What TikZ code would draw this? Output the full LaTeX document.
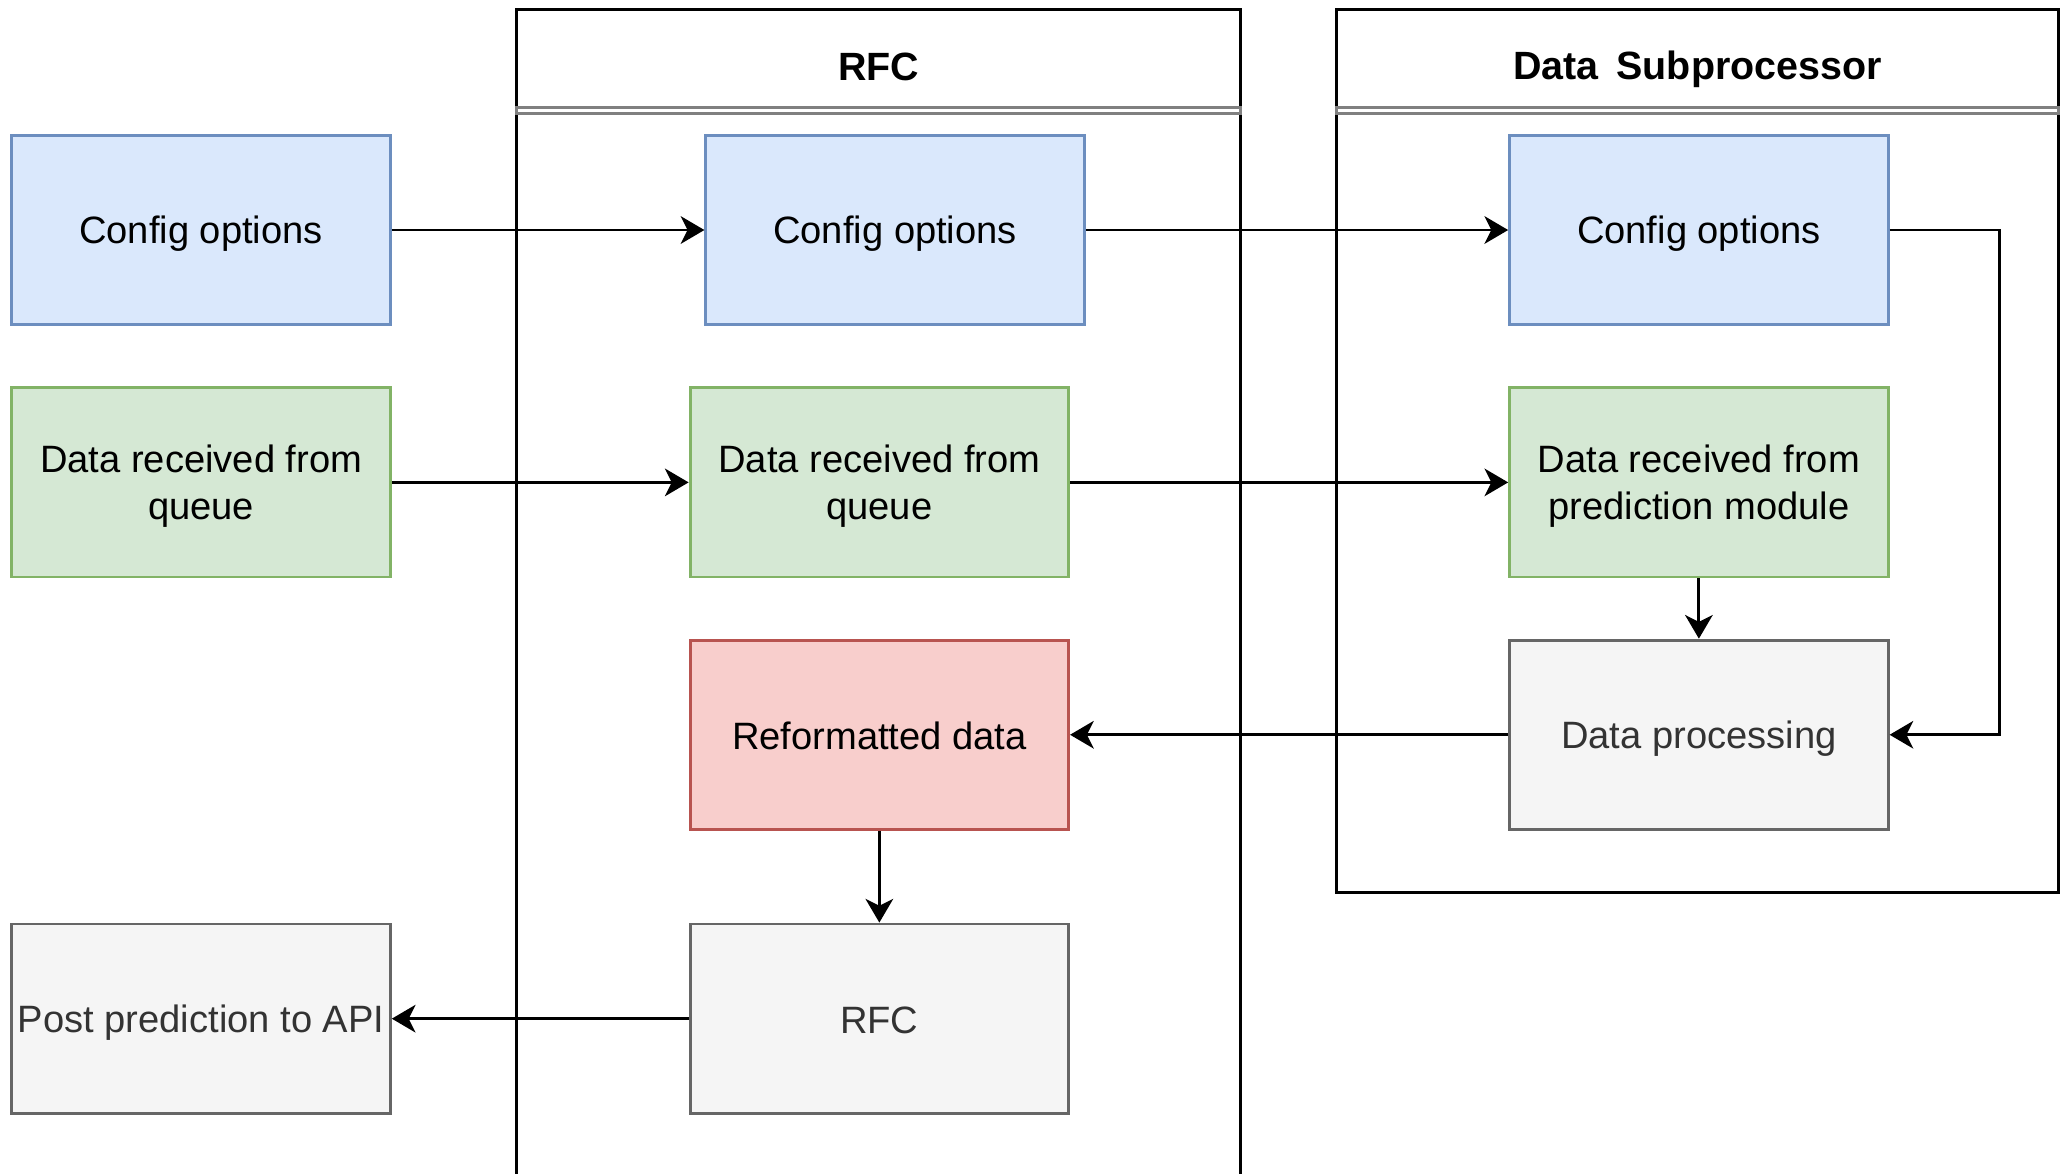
\documentclass[tikz,border=0pt]{standalone}
\usepackage{fontspec}
\setmainfont{Liberation Sans}
\usetikzlibrary{arrows.meta}

\definecolor{blueFill}{HTML}{DAE8FC}
\definecolor{blueLine}{HTML}{6C8EBF}
\definecolor{greenFill}{HTML}{D5E8D4}
\definecolor{greenLine}{HTML}{82B366}
\definecolor{redFill}{HTML}{F8CECC}
\definecolor{redLine}{HTML}{B85450}
\definecolor{greyFill}{HTML}{F5F5F5}
\definecolor{greyLine}{HTML}{666666}
\definecolor{greyText}{HTML}{333333}
\definecolor{headLine}{HTML}{808080}

% fixed line box, so every line of text sits on the same baseline
\newcommand{\boxstrut}{\rule[-2.2pt]{0pt}{15.7pt}}

\tikzset{
  box/.style={rectangle, minimum width=144pt, minimum height=72pt,
    line width=1.1pt, align=center, inner sep=1pt,
    font=\fontsize{14.5pt}{18pt}\selectfont},
  cfgbox/.style={box, draw=blueLine, fill=blueFill},
  databox/.style={box, draw=greenLine, fill=greenFill},
  redbox/.style={box, draw=redLine, fill=redFill},
  greybox/.style={box, draw=greyLine, fill=greyFill, text=greyText},
  lane/.style={rectangle, draw=black, line width=1.1pt, inner sep=0pt},
  lanetitle/.style={font=\fontsize{15pt}{18pt}\selectfont\bfseries},
  headsep/.style={draw=headLine, line width=1.1pt},
  flow/.style={line width=1.1pt,
    -{Stealth[length=9pt, width=10.5pt, inset=2.6pt]}},
}

\begin{document}
\begin{tikzpicture}[x=0.5pt, y=-0.5pt]
  \useasboundingbox (0,0) rectangle (1568,893);
  \clip (0,0) rectangle (1568,893);

  % swimlanes
  \node[lane, minimum width=275.5pt, minimum height=456.5pt] (rfcLane) at (668.5,463.5) {};
  \node[lane, minimum width=274.5pt, minimum height=336pt] (dsLane) at (1291.5,343) {};
  \draw[headsep] (393,82) rectangle (944,86.5);
  \draw[headsep] (1017,82) rectangle (1566,86.5);
  \node[lanetitle] (rfcTitle) at (668.5,50) {RFC\boxstrut};
  \node[lanetitle] (dsTitle) at (1291.5,50) {Data\hspace{0.45em}Subprocessor\boxstrut};

  % outside the lanes
  \node[cfgbox]  (cfgL)  at (153,175) {Config options\boxstrut};
  \node[databox] (dataL) at (153,367) {Data received from\boxstrut\\queue\boxstrut};
  \node[greybox] (post)  at (153,775) {Post prediction to API\boxstrut};

  % RFC lane
  \node[cfgbox]  (cfgR)  at (681,175) {Config options\boxstrut};
  \node[databox] (dataR) at (669,367) {Data received from\boxstrut\\queue\boxstrut};
  \node[redbox]  (refmt) at (669,559) {Reformatted data\boxstrut};
  \node[greybox] (rfc)   at (669,775) {RFC\boxstrut};

  % Data Subprocessor lane
  \node[cfgbox]  (cfgS)  at (1292.5,175) {Config options\boxstrut};
  \node[databox] (dataS) at (1292.5,367) {Data received from\boxstrut\\prediction module\boxstrut};
  \node[greybox] (proc)  at (1292.5,559) {Data processing\boxstrut};

  % connectors
  \draw[flow] (cfgL) -- (cfgR);
  \draw[flow] (dataL) -- (dataR);
  \draw[flow] (cfgR) -- (cfgS);
  \draw[flow] (dataR) -- (dataS);
  \draw[flow] (dataS) -- (proc);
  \draw[flow] (cfgS.east) -- ++(83.5,0) |- (proc.east);
  \draw[flow] (proc) -- (refmt);
  \draw[flow] (refmt) -- (rfc);
  \draw[flow] (rfc) -- (post);
\end{tikzpicture}
\end{document}
